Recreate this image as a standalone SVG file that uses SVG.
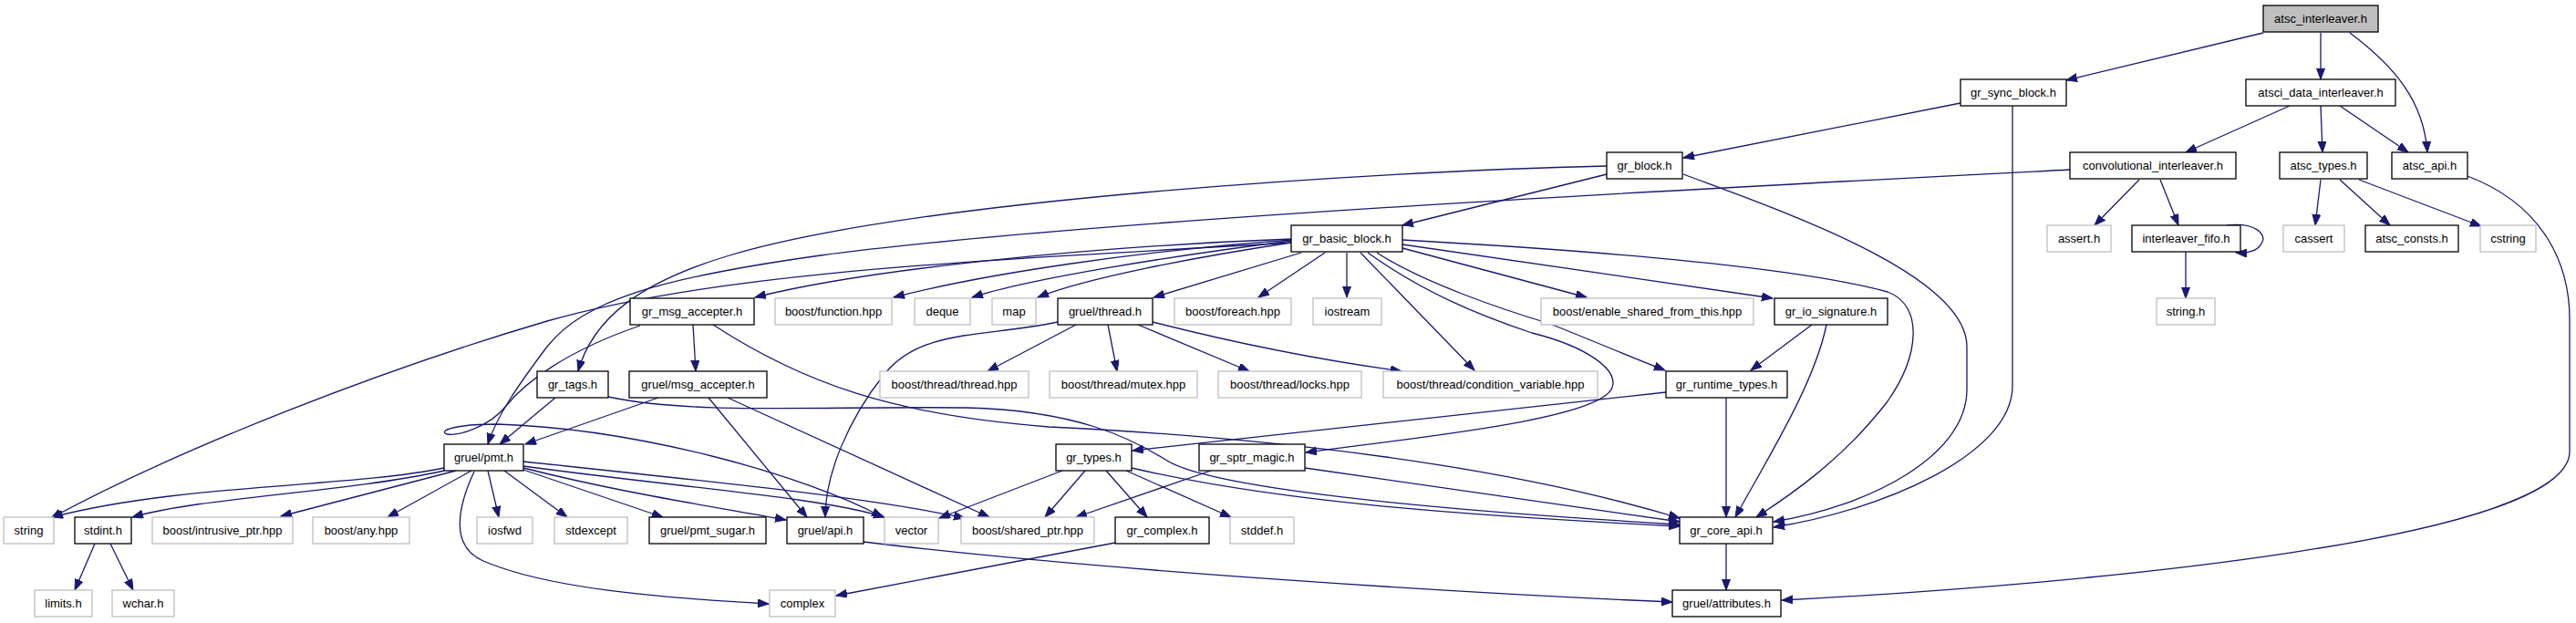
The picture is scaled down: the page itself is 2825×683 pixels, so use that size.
<svg xmlns="http://www.w3.org/2000/svg" width="2825" height="683" viewBox="0 0 2825 683">
<style>
.n rect{fill:#fff;stroke:#000;stroke-width:1.3}
.g rect{fill:#fff;stroke:#bfbfbf;stroke-width:1.3}
.r rect{fill:#bfbfbf;stroke:#000;stroke-width:1.3}
text{font-family:"Liberation Sans",Arial,sans-serif;font-size:13px;text-anchor:middle;fill:#000}
#edges path{fill:none;stroke:#191970;stroke-width:1.3;marker-end:url(#a)}
</style>
<defs>
<marker id="a" markerUnits="userSpaceOnUse" markerWidth="13" markerHeight="10" refX="12" refY="4.5" orient="auto"><path d="M0,0 L12,4.5 L0,9 z" fill="#191970" stroke="#191970" stroke-width="1"/></marker>
</defs>
<rect width="2825" height="683" fill="#fff"/>
<g id="edges">
<path d="M2482,36 L2266,88"/>
<path d="M2545,36 L2545,87"/>
<path d="M2577,36 C2625,72 2658,110 2662,167"/>
<path d="M2150,113 L1846,173"/>
<path d="M2207,116 L2207,423 C2207,500 2060,560 1945,578"/>
<path d="M1846,191 C1950,230 2157,300 2157,380 L2157,427 C2157,500 2050,555 1945,572"/>
<path d="M2511,116 L2397,167"/>
<path d="M2545,116 L2547,167"/>
<path d="M2566,116 L2641,167"/>
<path d="M2270,186 C1900,205 1200,240 900,280 C720,305 640,330 600,380 C570,420 545,455 535,487"/>
<path d="M2346,197 L2297,247"/>
<path d="M2369,197 L2389,247"/>
<path d="M2442,247 C2475,243 2485,258 2481,265 C2478,273 2470,278 2452,277"/>
<path d="M2397,276 L2397,327"/>
<path d="M2545,197 L2539,247"/>
<path d="M2566,197 L2621,247"/>
<path d="M2587,197 L2721,248"/>
<path d="M2706,193 C2790,225 2818,290 2818,350 L2818,495 C2818,590 2300,640 1954,658"/>
<path d="M1762,191 L1538,247"/>
<path d="M1762,182 C1500,188 1000,220 800,280 C700,310 650,350 634,407"/>
<path d="M1416,266 C1100,285 800,295 600,352 C420,405 200,490 56,568"/>
<path d="M1416,262 C1200,270 950,295 828,326"/>
<path d="M1416,263 C1250,275 1080,300 980,326"/>
<path d="M1416,264 C1290,280 1130,305 1066,326"/>
<path d="M1416,266 C1310,282 1190,305 1138,326"/>
<path d="M1427,277 L1265,326"/>
<path d="M1453,277 L1380,326"/>
<path d="M1477,277 L1477,326"/>
<path d="M1492,277 L1617,406"/>
<path d="M1500,277 C1560,320 1620,345 1680,365 C1740,380 1775,405 1768,425 C1755,460 1550,480 1432,496"/>
<path d="M1510,277 C1560,310 1650,340 1700,355 C1750,375 1790,392 1826,406"/>
<path d="M1538,272 L1740,326"/>
<path d="M1538,268 L1944,327"/>
<path d="M1538,263 C1700,272 1960,290 2070,320 C2110,335 2105,390 2070,440 C2020,505 1960,545 1926,567"/>
<path d="M1987,356 L1920,406"/>
<path d="M2003,356 C1990,420 1940,500 1903,567"/>
<path d="M1893,436 L1893,567"/>
<path d="M1827,430 C1600,455 1400,475 1242,494"/>
<path d="M760,356 L763,407"/>
<path d="M782,356 C880,420 980,455 1150,468 C1400,480 1650,510 1842,568"/>
<path d="M702,357 C620,385 575,420 555,445 C535,470 500,478 490,476 C480,472 500,465 545,465 C700,470 880,520 968,567"/>
<path d="M722,436 L576,487"/>
<path d="M777,436 L885,567"/>
<path d="M798,436 L1085,567"/>
<path d="M609,436 L548,487"/>
<path d="M667,435 C760,455 900,445 1060,447 C1180,450 1240,480 1280,505 C1320,530 1500,555 1842,575"/>
<path d="M487,513 C380,535 200,530 57,567"/>
<path d="M487,516 C380,540 220,545 145,567"/>
<path d="M500,516 L308,566"/>
<path d="M517,516 L425,567"/>
<path d="M535,516 L547,567"/>
<path d="M553,516 L622,567"/>
<path d="M574,515 L727,567"/>
<path d="M574,513 C680,540 780,555 862,570"/>
<path d="M574,511 C750,535 900,545 970,567"/>
<path d="M574,506 C800,530 950,545 1058,568"/>
<path d="M520,517 C500,560 495,600 530,615 C600,645 720,655 843,662"/>
<path d="M1160,353 C1080,370 1010,360 970,410 C930,460 905,520 905,567"/>
<path d="M1180,356 L1083,407"/>
<path d="M1215,356 L1225,407"/>
<path d="M1248,356 L1370,407"/>
<path d="M1264,353 C1350,375 1450,395 1537,407"/>
<path d="M947,594 C1200,625 1600,650 1834,660"/>
<path d="M1893,596 L1893,647"/>
<path d="M1165,516 L1030,568"/>
<path d="M1190,516 L1146,567"/>
<path d="M1213,516 L1258,567"/>
<path d="M1235,516 L1350,567"/>
<path d="M1241,513 C1400,550 1600,565 1842,577"/>
<path d="M1328,516 L1180,567"/>
<path d="M1431,513 L1842,572"/>
<path d="M1223,595 L917,653"/>
<path d="M104,596 L82,647"/>
<path d="M121,596 L146,647"/>
</g>
<g id="atsc_interleaver" class="r"><rect x="2482" y="6" width="126" height="29"/><text x="2545" y="25">atsc_interleaver.h</text></g>
<g id="gr_sync_block" class="n"><rect x="2150" y="87" width="116" height="29"/><text x="2208" y="106">gr_sync_block.h</text></g>
<g id="atsci_data_interleaver" class="n"><rect x="2463" y="87" width="164" height="29"/><text x="2545" y="106">atsci_data_interleaver.h</text></g>
<g id="gr_block" class="n"><rect x="1762" y="167" width="83" height="29"/><text x="1803.5" y="186">gr_block.h</text></g>
<g id="convolutional_interleaver" class="n"><rect x="2270" y="167" width="182" height="29"/><text x="2361" y="186">convolutional_interleaver.h</text></g>
<g id="atsc_types" class="n"><rect x="2500" y="167" width="96" height="29"/><text x="2548" y="186">atsc_types.h</text></g>
<g id="atsc_api" class="n"><rect x="2623" y="167" width="83" height="29"/><text x="2664.5" y="186">atsc_api.h</text></g>
<g id="gr_basic_block" class="n"><rect x="1416" y="247" width="122" height="29"/><text x="1477" y="266">gr_basic_block.h</text></g>
<g id="assert_h" class="g"><rect x="2245" y="247" width="70" height="29"/><text x="2280" y="266">assert.h</text></g>
<g id="interleaver_fifo" class="n"><rect x="2338" y="247" width="119" height="29"/><text x="2397.5" y="266">interleaver_fifo.h</text></g>
<g id="cassert" class="g"><rect x="2504" y="247" width="67" height="29"/><text x="2537.5" y="266">cassert</text></g>
<g id="atsc_consts" class="n"><rect x="2594" y="247" width="102" height="29"/><text x="2645" y="266">atsc_consts.h</text></g>
<g id="cstring" class="g"><rect x="2720" y="247" width="61" height="29"/><text x="2750.5" y="266">cstring</text></g>
<g id="gr_msg_accepter" class="n"><rect x="691" y="327" width="136" height="29"/><text x="759" y="346">gr_msg_accepter.h</text></g>
<g id="boost_function" class="g"><rect x="850" y="327" width="128" height="29"/><text x="914" y="346">boost/function.hpp</text></g>
<g id="deque" class="g"><rect x="1003" y="327" width="61" height="29"/><text x="1033.5" y="346">deque</text></g>
<g id="map" class="g"><rect x="1088" y="327" width="48" height="29"/><text x="1112" y="346">map</text></g>
<g id="gruel_thread" class="n"><rect x="1160" y="327" width="104" height="29"/><text x="1212" y="346">gruel/thread.h</text></g>
<g id="boost_foreach" class="g"><rect x="1288" y="327" width="128" height="29"/><text x="1352" y="346">boost/foreach.hpp</text></g>
<g id="iostream" class="g"><rect x="1440" y="327" width="75" height="29"/><text x="1477.5" y="346">iostream</text></g>
<g id="boost_esft" class="g"><rect x="1690" y="327" width="233" height="29"/><text x="1806.5" y="346">boost/enable_shared_from_this.hpp</text></g>
<g id="gr_io_signature" class="n"><rect x="1946" y="327" width="124" height="29"/><text x="2008" y="346">gr_io_signature.h</text></g>
<g id="string_h" class="g"><rect x="2365" y="327" width="64" height="29"/><text x="2397" y="346">string.h</text></g>
<g id="gr_tags" class="n"><rect x="589" y="407" width="78" height="29"/><text x="628" y="426">gr_tags.h</text></g>
<g id="gruel_msg_accepter" class="n"><rect x="690" y="407" width="151" height="29"/><text x="765.5" y="426">gruel/msg_accepter.h</text></g>
<g id="boost_thread_thread" class="g"><rect x="965" y="407" width="163" height="29"/><text x="1046.5" y="426">boost/thread/thread.hpp</text></g>
<g id="boost_thread_mutex" class="g"><rect x="1151" y="407" width="162" height="29"/><text x="1232" y="426">boost/thread/mutex.hpp</text></g>
<g id="boost_thread_locks" class="g"><rect x="1336" y="407" width="157" height="29"/><text x="1414.5" y="426">boost/thread/locks.hpp</text></g>
<g id="boost_thread_cv" class="g"><rect x="1517" y="407" width="235" height="29"/><text x="1634.5" y="426">boost/thread/condition_variable.hpp</text></g>
<g id="gr_runtime_types" class="n"><rect x="1827" y="407" width="133" height="29"/><text x="1893.5" y="426">gr_runtime_types.h</text></g>
<g id="gruel_pmt" class="n"><rect x="487" y="487" width="87" height="29"/><text x="530.5" y="506">gruel/pmt.h</text></g>
<g id="gr_types" class="n"><rect x="1158" y="487" width="83" height="29"/><text x="1199.5" y="506">gr_types.h</text></g>
<g id="gr_sptr_magic" class="n"><rect x="1315" y="487" width="116" height="29"/><text x="1373" y="506">gr_sptr_magic.h</text></g>
<g id="string" class="g"><rect x="4" y="567" width="55" height="29"/><text x="31.5" y="586">string</text></g>
<g id="stdint" class="n"><rect x="82" y="567" width="62" height="29"/><text x="113" y="586">stdint.h</text></g>
<g id="boost_intrusive_ptr" class="g"><rect x="167" y="567" width="154" height="29"/><text x="244" y="586">boost/intrusive_ptr.hpp</text></g>
<g id="boost_any" class="g"><rect x="343" y="567" width="106" height="29"/><text x="396" y="586">boost/any.hpp</text></g>
<g id="iosfwd" class="g"><rect x="523" y="567" width="61" height="29"/><text x="553.5" y="586">iosfwd</text></g>
<g id="stdexcept" class="g"><rect x="608" y="567" width="80" height="29"/><text x="648" y="586">stdexcept</text></g>
<g id="gruel_pmt_sugar" class="n"><rect x="712" y="567" width="128" height="29"/><text x="776" y="586">gruel/pmt_sugar.h</text></g>
<g id="gruel_api" class="n"><rect x="863" y="567" width="84" height="29"/><text x="905" y="586">gruel/api.h</text></g>
<g id="vector" class="g"><rect x="970" y="567" width="59" height="29"/><text x="999.5" y="586">vector</text></g>
<g id="boost_shared_ptr" class="g"><rect x="1054" y="567" width="146" height="29"/><text x="1127" y="586">boost/shared_ptr.hpp</text></g>
<g id="gr_complex" class="n"><rect x="1223" y="567" width="103" height="29"/><text x="1274.5" y="586">gr_complex.h</text></g>
<g id="stddef" class="g"><rect x="1349" y="567" width="70" height="29"/><text x="1384" y="586">stddef.h</text></g>
<g id="gr_core_api" class="n"><rect x="1842" y="567" width="102" height="29"/><text x="1893" y="586">gr_core_api.h</text></g>
<g id="limits" class="g"><rect x="38" y="647" width="63" height="29"/><text x="69.5" y="666">limits.h</text></g>
<g id="wchar" class="g"><rect x="123" y="647" width="68" height="29"/><text x="157" y="666">wchar.h</text></g>
<g id="complex" class="g"><rect x="844" y="647" width="72" height="29"/><text x="880" y="666">complex</text></g>
<g id="gruel_attributes" class="n"><rect x="1834" y="647" width="119" height="29"/><text x="1893.5" y="666">gruel/attributes.h</text></g>
</svg>
